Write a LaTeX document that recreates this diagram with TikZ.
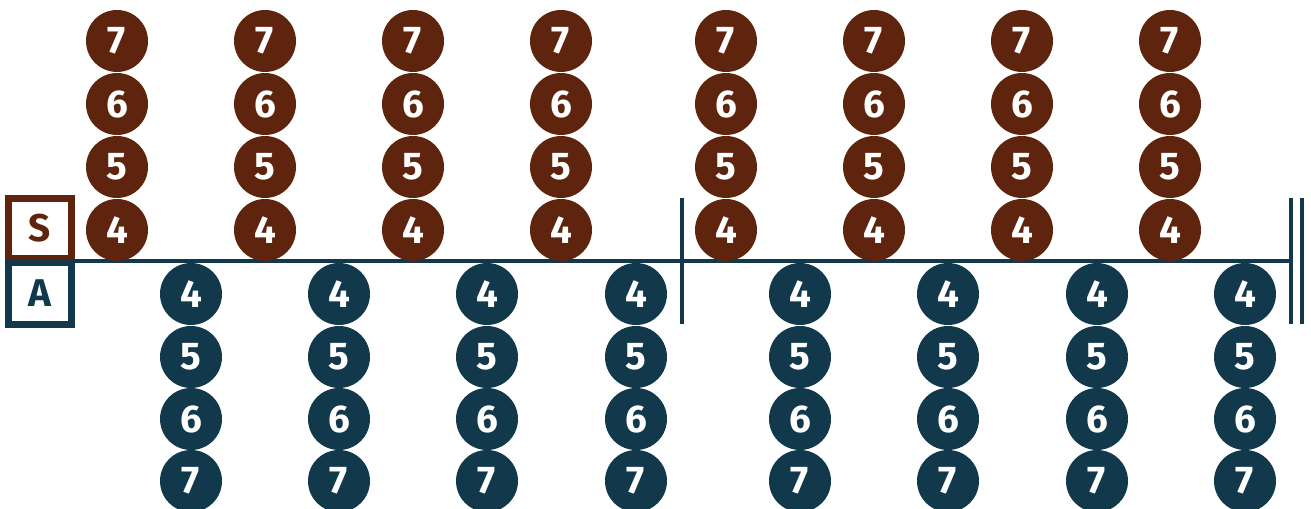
\documentclass[tikz,border=0pt]{standalone}
\usepackage{fontspec}
\setmainfont{Fira Sans}
\usepackage{tikz}
\usetikzlibrary{positioning}
\definecolor{sopbrown}{HTML}{5E240D}
\definecolor{altblue}{HTML}{12384B}

\begin{document}
\begin{tikzpicture}[x=0.75pt,y=-0.75pt,font=\bfseries\fontsize{29}{29}\selectfont]

\tikzset{
s/.style={
    circle,
    fill=sopbrown,
    text=white,
    inner sep=0pt,
    minimum size=46.5pt
},
t/.style={s,fill=altblue},
v/.style={draw,line width=5.25pt,minimum width=47pt,minimum height=44.5pt,fill=white},
bar/.style={altblue,line width=3pt}
}

\useasboundingbox (0,0) rectangle (1311,509);

% staff and bars
\coordinate (staffL) at (75,261);
\coordinate (staffR) at (1291,261);
\coordinate (barT) at (682,198);
\coordinate (barB) at (682,324);
\coordinate (endT) at (1291,198);
\coordinate (endB) at (1291,324);
\coordinate (endT2) at (1302,198);
\coordinate (endB2) at (1302,324);
\draw[bar] (staffL) -- (staffR);
\draw[bar] (barT) -- (barB);
\draw[bar] (endT) -- (endB);
\draw[bar] (endT2) -- (endB2);

% voice boxes
\node[v,draw=sopbrown,text=sopbrown] (sop) at (40,228.5) {S};
\node[v,draw=altblue,text=altblue,minimum height=46.5pt] (alt) at (40,293.5) {A};

% soprano notes
\foreach \x [count=\i] in {117,265,413,561,726,874,1022,1170}{
  \node[s] (s\i-4) at (\x,230) {4};
  \node[s] (s\i-5) at (\x,167) {5};
  \node[s] (s\i-6) at (\x,104) {6};
  \node[s] (s\i-7) at (\x,41) {7};
}

% alto notes
\foreach \x [count=\i] in {191,339,487,636,800,948,1097,1245}{
  \node[t] (a\i-4) at (\x,294) {4};
  \node[t] (a\i-5) at (\x,357) {5};
  \node[t] (a\i-6) at (\x,419) {6};
  \node[t] (a\i-7) at (\x,481) {7};
}

\end{tikzpicture}
\end{document}
